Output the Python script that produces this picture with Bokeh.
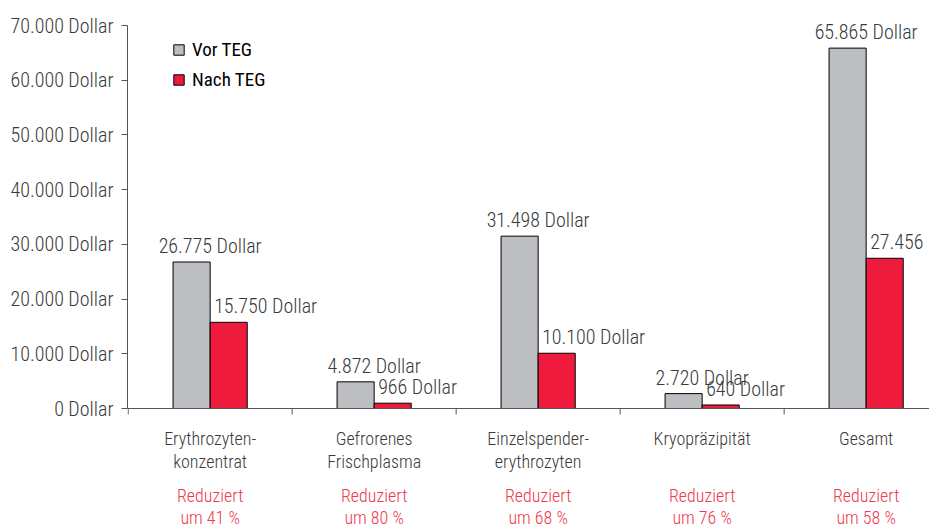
from bokeh.plotting import figure
from bokeh.models import (ColumnDataSource, Range1d, FixedTicker, LabelSet, Legend, LegendItem, Span)
from bokeh.core.properties import value
from bokeh.embed import file_html
from bokeh.resources import INLINE

# ---- data ----
categories = ["Erythrozyten-\nkonzentrat", "Gefrorenes\nFrischplasma",
              "Einzelspender-\nerythrozyten", "Kryopräzipität", "Gesamt"]
vor_teg = [26775, 4872, 31498, 2720, 65865]
nach_teg = [15750, 966, 10100, 640, 27456]
vor_labels = ["26.775 Dollar", "4.872 Dollar", "31.498 Dollar", "2.720 Dollar", "65.865 Dollar"]
nach_labels = ["15.750 Dollar", "966 Dollar", "10.100 Dollar", "640 Dollar", "27.456"]
reduction = ["Reduziert\num 41 %", "Reduziert\num 80 %", "Reduziert\num 68 %",
             "Reduziert\num 76 %", "Reduziert\num 58 %"]
y_ticks = [0, 10000, 20000, 30000, 40000, 50000, 60000, 70000]
y_tick_labels = ["0 Dollar", "10.000 Dollar", "20.000 Dollar", "30.000 Dollar",
                 "40.000 Dollar", "50.000 Dollar", "60.000 Dollar", "70.000 Dollar"]

FONT = "Roboto Condensed Light, Roboto Condensed"
FONT_LEG = "Roboto Condensed"
GREY = "#bdbec2"
RED = "#ee1b3c"
TXT = "#3a3a3a"
RED_TXT = "#ef3a4c"
AX = "#555555"
BW = 0.226

W, H = 929, 527
AXIS_TOP, LEFT = 25, 127     # pixel row of the 70.000 tick, pixel column of the y axis
FRAME_H = H
FRAME_W = W - LEFT
GROUP_PX = 164.0
YMAX = 70000
PX = YMAX / 383.0            # dollars per pixel (0 -> 70.000 spans 383 px)
YTOP = YMAX + AXIS_TOP * PX
YMIN = YTOP - FRAME_H * PX
XMIN = -0.004
XMAX = XMIN + FRAME_W / GROUP_PX

idx = list(range(len(categories)))
centers = [i + 0.5 for i in idx]
src = ColumnDataSource(dict(
    xg=[c - BW / 2 for c in centers],
    xr=[c + BW / 2 for c in centers],
    xc=centers,
    vor=vor_teg, nach=nach_teg,
    vl=vor_labels, nl=nach_labels,
    c1=[c.split("\n")[0] for c in categories],
    c2=[(c.split("\n") + [""])[1] for c in categories],
    r1=[r.split("\n")[0] for r in reduction],
    r2=[r.split("\n")[1] for r in reduction],
    zero=[0] * len(categories),
))

p = figure(width=W, height=H, output_backend="svg", toolbar_location=None,
           x_axis_location=None,
           x_range=Range1d(XMIN, XMAX), y_range=Range1d(YMIN, YTOP),
           min_border_left=LEFT, min_border_right=0, min_border_top=0, min_border_bottom=0)
p.outline_line_color = None
p.xgrid.visible = False
p.ygrid.visible = False
p.background_fill_color = "white"
p.border_fill_color = "white"

rg = p.vbar(x="xg", top="vor", width=BW, bottom=0, source=src,
            fill_color=GREY, line_color="black", line_width=1)
rr = p.vbar(x="xr", top="nach", width=BW, bottom=0, source=src,
            fill_color=RED, line_color="black", line_width=1)

# y axis (limited to 0..70.000)
ya = p.yaxis[0]
ya.bounds = (0, YMAX)
ya.ticker = FixedTicker(ticks=y_ticks)
ya.major_label_overrides = {t: l for t, l in zip(y_ticks, y_tick_labels)}
ya.major_tick_out = 6
ya.major_tick_in = 0
ya.minor_tick_line_color = None
ya.axis_line_color = AX
ya.major_tick_line_color = AX
ya.major_label_text_font = FONT
ya.major_label_text_font_size = "20px"
ya.major_label_text_color = TXT
ya.major_label_standoff = 8

# category axis line at 0 with ticks at the group boundaries
p.add_layout(Span(location=0, dimension="width", line_color=AX, line_width=1))
bounds_x = list(range(len(categories)))
p.segment(x0=bounds_x, y0=[0] * len(bounds_x), x1=bounds_x, y1=[-6 * PX] * len(bounds_x),
          line_color=AX, line_width=1)

val_common = dict(source=src, text_font=value(FONT), text_font_size="20px")
cat_common = dict(source=src, text_font=value(FONT), text_font_size="18px")

p.add_layout(LabelSet(x="xc", y="vor", text="vl", text_align="center",
                      text_baseline="alphabetic", y_offset=9, text_color=TXT, **val_common))
p.add_layout(LabelSet(x="xr", y="nach", text="nl", text_align="left",
                      x_offset=-BW / 2 * GROUP_PX + 4,
                      text_baseline="alphabetic", y_offset=9, text_color=TXT, **val_common))

p.add_layout(LabelSet(x="xc", y="zero", text="c1", text_align="center", text_baseline="middle",
                      y_offset=-30, text_color=TXT, **cat_common))
p.add_layout(LabelSet(x="xc", y="zero", text="c2", text_align="center", text_baseline="middle",
                      y_offset=-53, text_color=TXT, **cat_common))
p.add_layout(LabelSet(x="xc", y="zero", text="r1", text_align="center", text_baseline="middle",
                      y_offset=-87, text_color=RED_TXT, **cat_common))
p.add_layout(LabelSet(x="xc", y="zero", text="r2", text_align="center", text_baseline="middle",
                      y_offset=-109, text_color=RED_TXT, **cat_common))

legend = Legend(items=[LegendItem(label="Vor TEG", renderers=[rg]),
                       LegendItem(label="Nach TEG", renderers=[rr])],
                location=(45, FRAME_H - AXIS_TOP - 12 - 54), orientation="vertical")
legend.glyph_width = 13
legend.glyph_height = 13
legend.label_height = 24
legend.spacing = 6
legend.padding = 0
legend.margin = 0
legend.label_standoff = 7
legend.border_line_color = None
legend.background_fill_alpha = 0
legend.label_text_font = FONT_LEG
legend.label_text_font_size = "19px"
legend.label_text_color = "black"
p.add_layout(legend)

open("out.html", "w").write(file_html(p, INLINE))
